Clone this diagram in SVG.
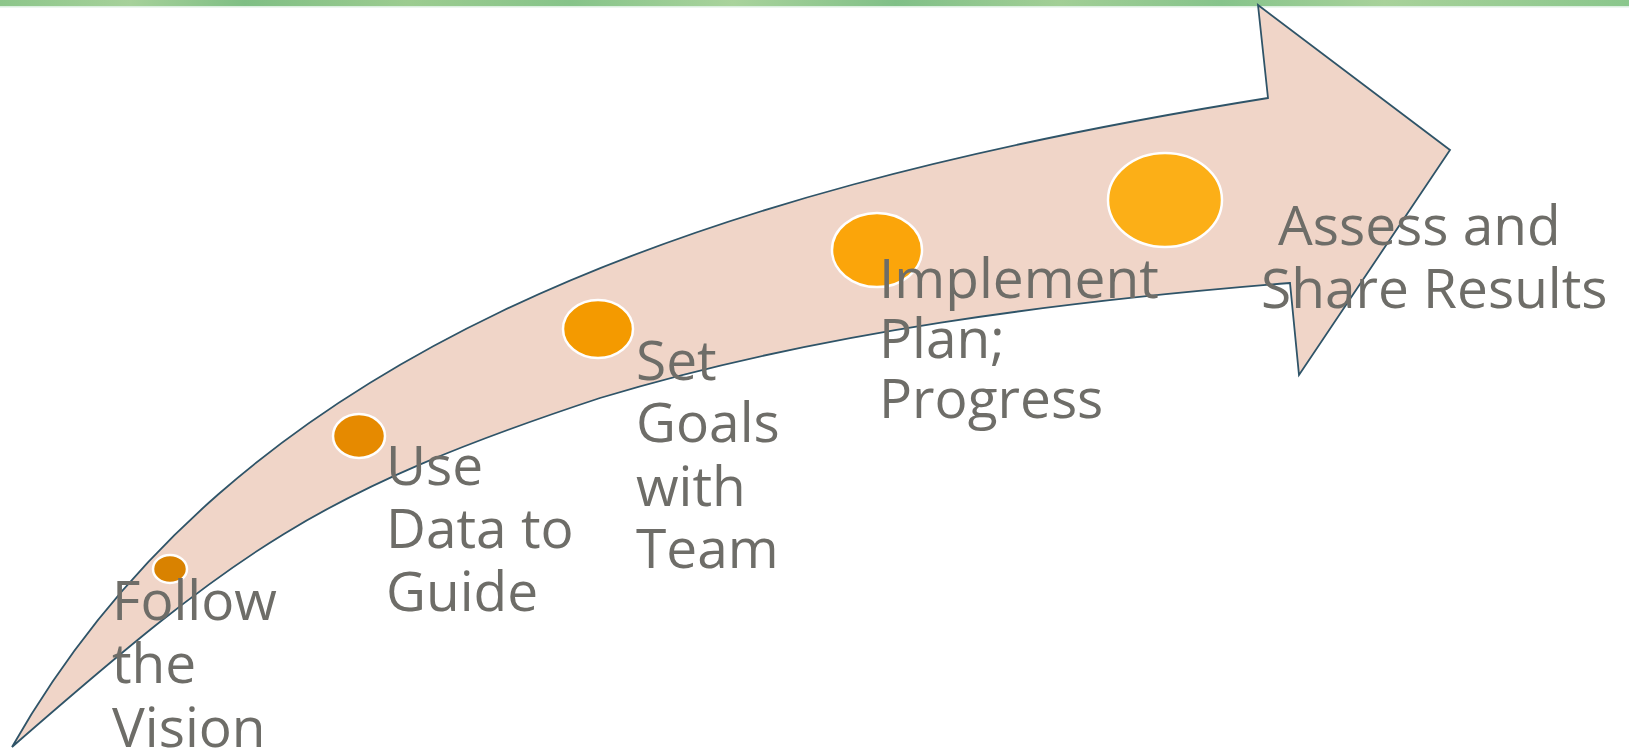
<svg xmlns="http://www.w3.org/2000/svg" width="1629" height="752" viewBox="0 0 1629 752">
  <defs>
    <linearGradient id="grass" x1="0" y1="0" x2="1" y2="0">
      <stop offset="0" stop-color="#8cc68a"/>
      <stop offset="0.08" stop-color="#a6d19a"/>
      <stop offset="0.15" stop-color="#7fbf84"/>
      <stop offset="0.25" stop-color="#9ccc90"/>
      <stop offset="0.35" stop-color="#86c489"/>
      <stop offset="0.45" stop-color="#a9d39c"/>
      <stop offset="0.55" stop-color="#80c087"/>
      <stop offset="0.65" stop-color="#a2cf96"/>
      <stop offset="0.75" stop-color="#86c48b"/>
      <stop offset="0.85" stop-color="#a8d29a"/>
      <stop offset="1" stop-color="#8ac78c"/>
    </linearGradient>
    <style>
      .lbl { font-family: "Open Sans", "Liberation Sans", sans-serif; font-size: 55px; fill: #6e6d68; }
      .dot { stroke: #ffffff; stroke-width: 2.5; }
    </style>
  </defs>
  <rect x="0" y="0" width="1629" height="752" fill="#ffffff"/>
  <g id="banner">
    <rect x="0" y="0" width="1629" height="6" fill="url(#grass)"/>
    <rect x="0" y="6" width="1629" height="1.5" fill="#dcefe0"/>
  </g>
  <g id="connectors">
    <path id="arrow" fill="#f0d5c8" stroke="#2f5468" stroke-width="1.8" stroke-linejoin="miter"
      d="M12,747 C234,356 676,193 1268,98 L1258,5 L1450,150 L1299,375 L1290,283 C1061,301.4 818,332 600,398 C315,492.2 238.2,549.9 12,747 Z"/>
  </g>
  <g id="step1">
    <ellipse class="dot" cx="170" cy="569" rx="17" ry="14" fill="#d98200"/>
    <text class="lbl"><tspan x="112" y="620">Follow</tspan><tspan x="112" y="683">the</tspan><tspan x="112" y="747">Vision</tspan></text>
  </g>
  <g id="step2">
    <ellipse class="dot" cx="359" cy="436" rx="26" ry="22" fill="#e68a00"/>
    <text class="lbl"><tspan x="386" y="485">Use</tspan><tspan x="386" y="548">Data to</tspan><tspan x="386" y="611">Guide</tspan></text>
  </g>
  <g id="step3">
    <ellipse class="dot" cx="598" cy="329" rx="35" ry="29" fill="#f49a00"/>
    <text class="lbl"><tspan x="636" y="380">Set</tspan><tspan x="636" y="442">Goals</tspan><tspan x="636" y="506">with</tspan><tspan x="636" y="568">Team</tspan></text>
  </g>
  <g id="step4">
    <ellipse class="dot" cx="877" cy="250" rx="45" ry="37" fill="#fba50a"/>
    <text class="lbl"><tspan x="879" y="298">Implement</tspan><tspan x="879" y="358">Plan;</tspan><tspan x="879" y="418">Progress</tspan></text>
  </g>
  <g id="step5">
    <ellipse class="dot" cx="1165" cy="200" rx="57" ry="47" fill="#fcaf17"/>
    <text class="lbl"><tspan x="1278" y="245">Assess and</tspan><tspan x="1261" y="308">Share Results</tspan></text>
  </g>
</svg>
